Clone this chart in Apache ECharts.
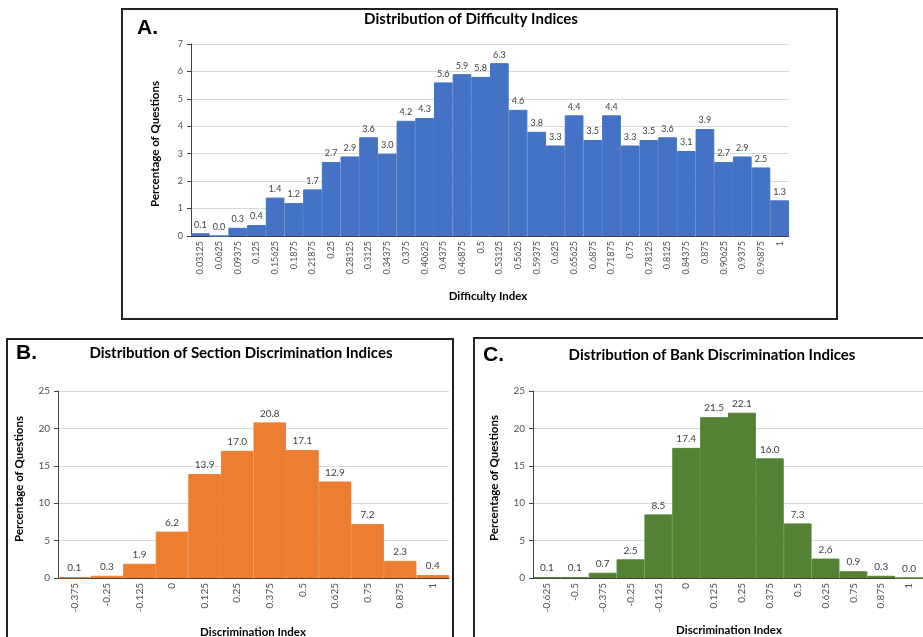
<!DOCTYPE html>
<html><head><meta charset="utf-8">
<script src="https://cdn.jsdelivr.net/npm/echarts@6/dist/echarts.min.js"></script>
<style>html,body{margin:0;padding:0;background:#fff}#c{width:923px;height:637px}</style>
</head><body><div id="c"></div>
<script>
const diffCats = ['0.03125','0.0625','0.09375','0.125','0.15625','0.1875','0.21875','0.25','0.28125','0.3125','0.34375','0.375','0.40625','0.4375','0.46875','0.5','0.53125','0.5625','0.59375','0.625','0.65625','0.6875','0.71875','0.75','0.78125','0.8125','0.84375','0.875','0.90625','0.9375','0.96875','1'];
const diffVals = [0.1,0.0,0.3,0.4,1.4,1.2,1.7,2.7,2.9,3.6,3.0,4.2,4.3,5.6,5.9,5.8,6.3,4.6,3.8,3.3,4.4,3.5,4.4,3.3,3.5,3.6,3.1,3.9,2.7,2.9,2.5,1.3];
const secCats = ['-0.375','-0.25','-0.125','0','0.125','0.25','0.375','0.5','0.625','0.75','0.875','1'];
const secVals = [0.1,0.3,1.9,6.2,13.9,17.0,20.8,17.1,12.9,7.2,2.3,0.4];
const bankCats = ['-0.625','-0.5','-0.375','-0.25','-0.125','0','0.125','0.25','0.375','0.5','0.625','0.75','0.875','1'];
const bankVals = [0.1,0.1,0.7,2.5,8.5,17.4,21.5,22.1,16.0,7.3,2.6,0.9,0.3,0.0];

const FONT = 'Lato';
const chart = echarts.init(document.getElementById('c'), null, {renderer:'canvas'});

function xAx(idx, cats, fs){
  return {gridIndex:idx, type:'category', data:cats, boundaryGap:true,
    axisLine:{lineStyle:{color:'#404040', width:1}}, axisTick:{show:false},
    axisLabel:{interval:0, rotate:90, fontSize:fs, color:'#505050', fontFamily:FONT, margin:5}};
}
function yAx(idx, max, interval, fs){
  return {gridIndex:idx, type:'value', min:0, max:max, interval:interval,
    axisLine:{show:true, lineStyle:{color:'#404040', width:1}},
    axisTick:{show:true, length:4, lineStyle:{color:'#404040'}},
    splitLine:{lineStyle:{color:'#d9d9d9', width:1}},
    axisLabel:{fontSize:fs, color:'#505050', fontFamily:FONT, margin:8}};
}
function ser(idx, vals, color, fs){
  return {type:'bar', xAxisIndex:idx, yAxisIndex:idx, data:vals, barCategoryGap:'0%',
    itemStyle:{color:color, borderColor:color, borderWidth:1}, animation:false,
    label:{show:true, position:'top', distance:4, fontSize:fs, color:'#404040', fontFamily:FONT,
      formatter:p=>p.value.toFixed(1)}};
}
function txt(x,y,s,size,opts){
  return Object.assign({type:'text', x:x, y:y, style:{text:s, font:'bold '+size+'px '+FONT, fill:'#000', textAlign:'center', textVerticalAlign:'middle'}}, opts||{});
}
function vtxt(x,y,s,size){
  return {type:'text', x:x, y:y, rotation:Math.PI/2, style:{text:s, font:'bold '+size+'px '+FONT, fill:'#000', textAlign:'center', textVerticalAlign:'middle'}};
}
function frame(x,y,w,h){
  return {type:'rect', shape:{x:x,y:y,width:w,height:h}, style:{fill:'none', stroke:'#222', lineWidth:2}, z:-1};
}

chart.setOption({
  animation:false,
  grid:[
    {left:191, top:44, width:598, height:192},
    {left:58, top:391, width:391, height:187},
    {left:533, top:391, width:392, height:187}
  ],
  xAxis:[xAx(0,diffCats,9), xAx(1,secCats,10), xAx(2,bankCats,10)],
  yAxis:[yAx(0,7,1,9), yAx(1,25,5,10), yAx(2,25,5,10)],
  series:[ser(0,diffVals,'#4472C4',9), ser(1,secVals,'#ED7D31',10), ser(2,bankVals,'#548235',10)],
  graphic:[
    frame(122,9,715,310), frame(7,339,446,320), frame(474,338,470,320),
    {type:'text', x:137, y:18, style:{text:'A.', font:'bold 21px "Liberation Sans"', fill:'#000'}},
    {type:'text', x:16, y:343, style:{text:'B.', font:'bold 21px "Liberation Sans"', fill:'#000'}},
    {type:'text', x:483, y:345, style:{text:'C.', font:'bold 21px "Liberation Sans"', fill:'#000'}},
    txt(471,19,'Distribution of Difficulty Indices',15),
    txt(241,353,'Distribution of Section Discrimination Indices',15),
    txt(712,355,'Distribution of Bank Discrimination Indices',15),
    txt(488,296,'Difficulty Index',11.5),
    txt(253,632,'Discrimination Index',11.5),
    txt(729,630,'Discrimination Index',11.5),
    vtxt(155,144,'Percentage of Questions',11.5),
    vtxt(19,479,'Percentage of Questions',11.5),
    vtxt(494,478,'Percentage of Questions',11.5)
  ]
});
</script></body></html>
